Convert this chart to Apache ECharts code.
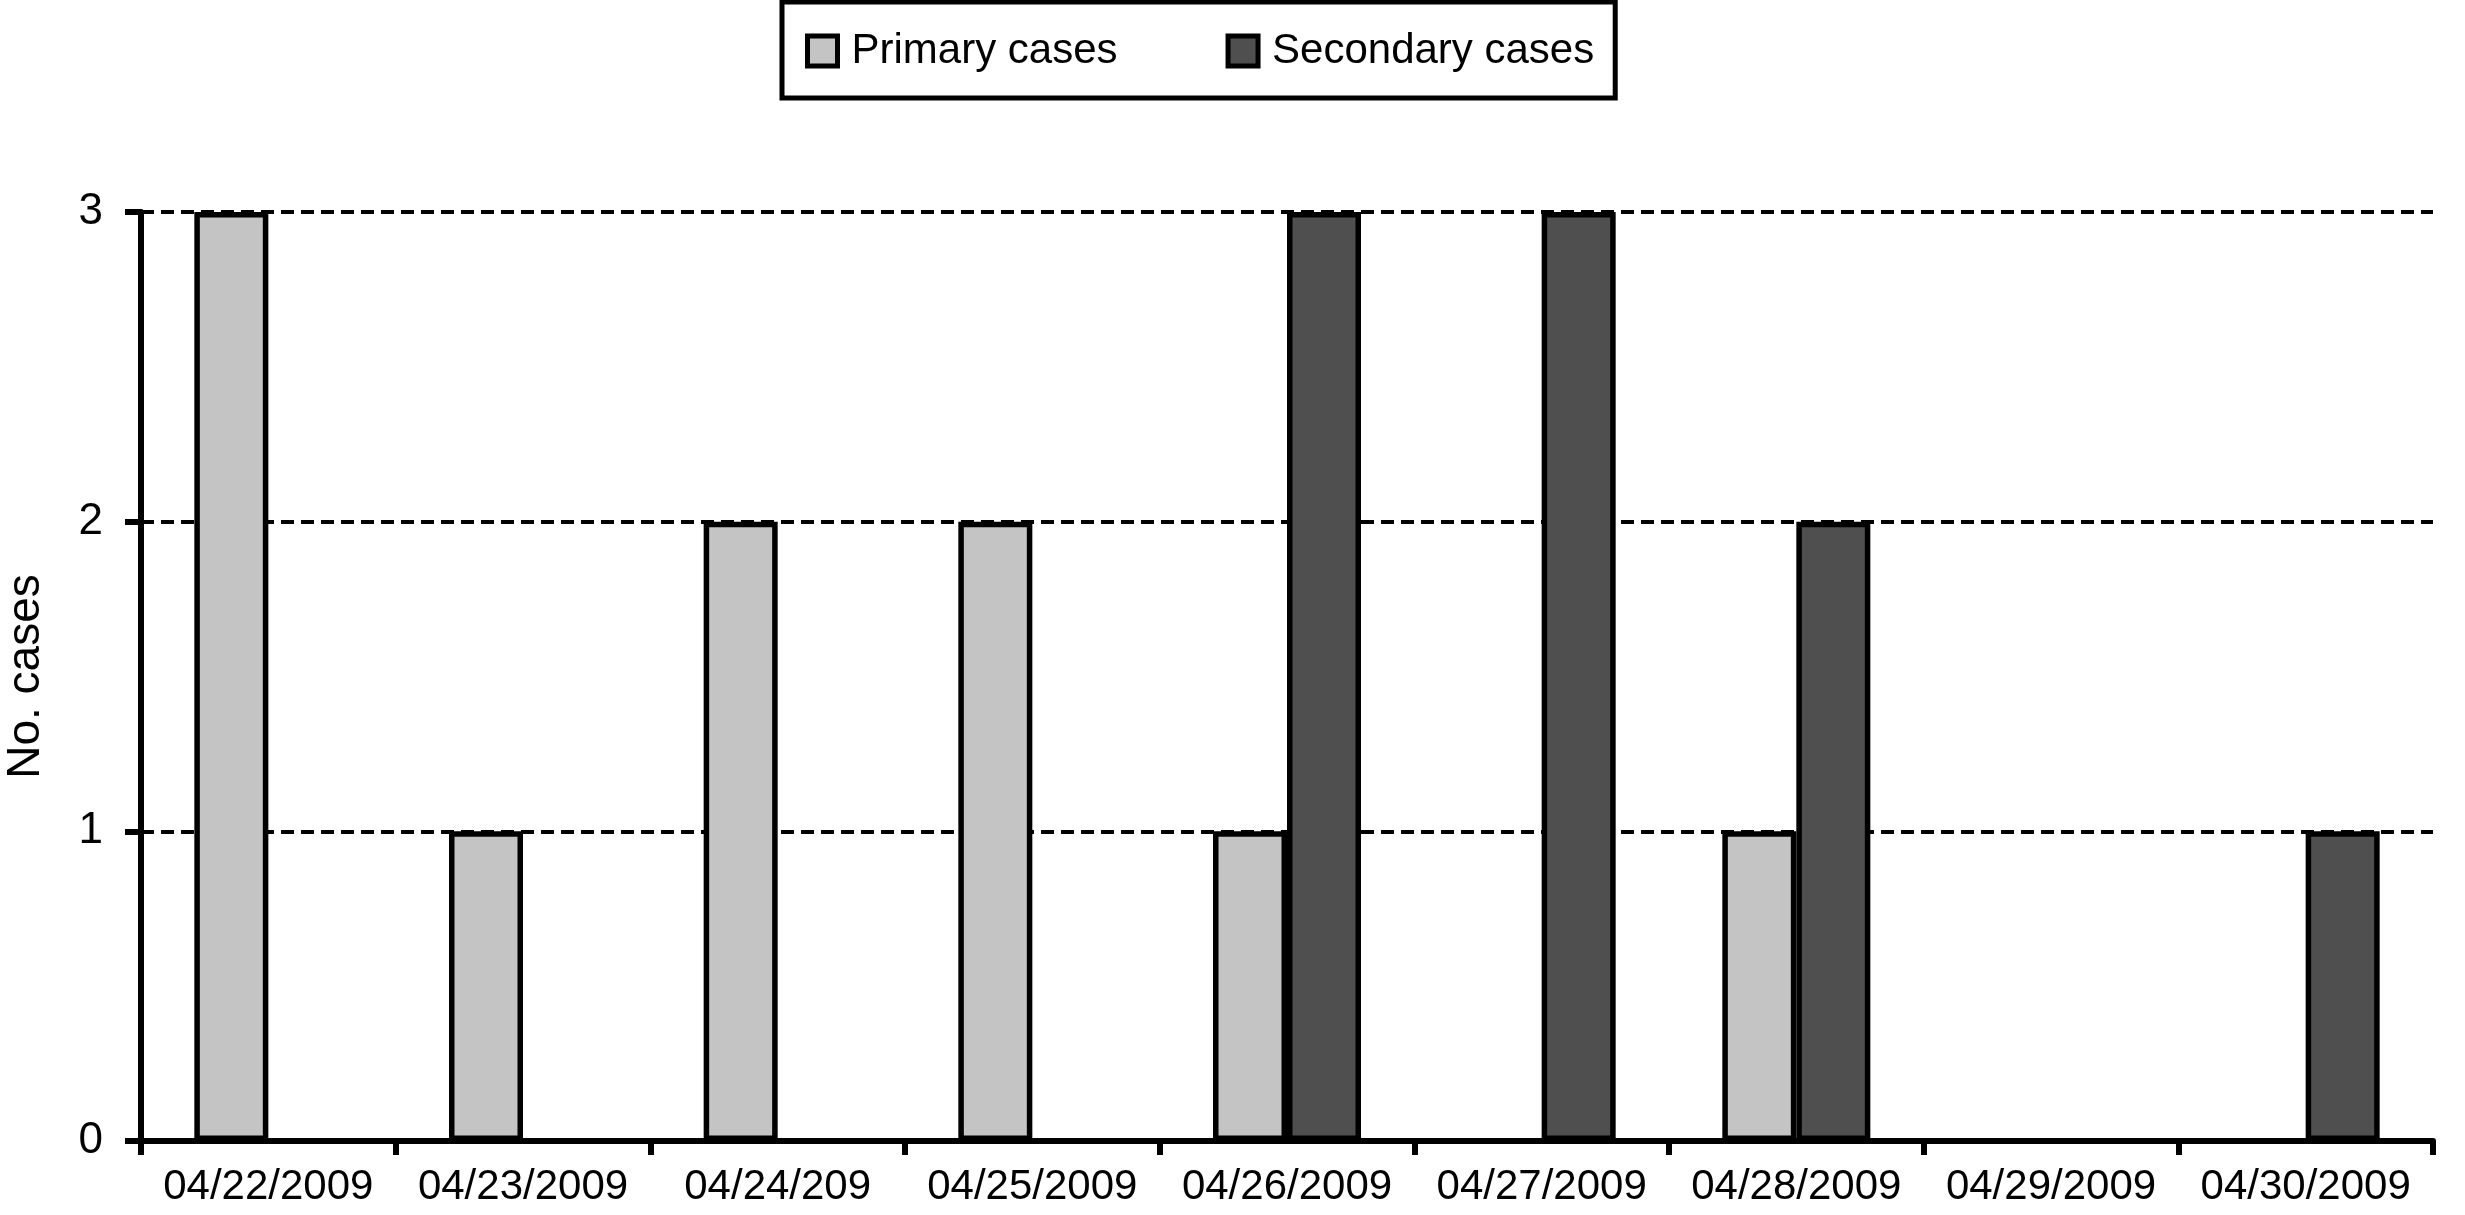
<!DOCTYPE html>
<html>
<head>
<meta charset="utf-8">
<script src="https://cdn.jsdelivr.net/npm/echarts@6/dist/echarts.min.js"></script>
<style>
html,body{margin:0;padding:0;background:#fff;}
#c{width:2465px;height:1215px;}
</style>
</head>
<body>
<div id="c"></div>
<script>
const categories = ['04/22/2009','04/23/2009','04/24/209','04/25/2009','04/26/2009','04/27/2009','04/28/2009','04/29/2009','04/30/2009'];
const primaryCases = [3,1,2,2,1,0,1,0,0];
const secondaryCases = [0,0,0,0,3,3,2,0,1];
const yTicks = [0,1,2,3];

const FONT = '"Liberation Sans", Arial, Helvetica, sans-serif';
const chart = echarts.init(document.getElementById('c'), null, {renderer:'canvas'});
chart.setOption({
  animation:false,
  backgroundColor:'#fff',
  legend:{
    left:782, top:2,
    padding:[28,21,26,23],
    itemGap:108,
    icon:'rect',
    itemWidth:30, itemHeight:30,
    itemStyle:{borderColor:'#000', borderWidth:5},
    borderColor:'#000', borderWidth:5, borderRadius:0,
    textStyle:{fontFamily:FONT, fontSize:42, color:'#000', padding:[0,0,0,9]},
    data:['Primary cases','Secondary cases']
  },
  grid:{left:141, right:32, top:212, bottom:74, containLabel:false, outerBoundsMode:'none'},
  xAxis:{
    type:'category',
    data:categories,
    boundaryGap:true,
    axisLine:{lineStyle:{color:'#000', width:6}},
    axisTick:{show:true, interval:0, length:14, lineStyle:{color:'#000', width:6}},
    axisLabel:{interval:0, margin:25, fontFamily:FONT, fontSize:42, color:'#000'},
    splitLine:{show:false}
  },
  yAxis:{
    type:'value',
    min:yTicks[0], max:yTicks[yTicks.length-1], interval:1,
    name:'No. cases',
    nameLocation:'middle',
    nameRotate:90,
    nameGap:92,
    nameTextStyle:{fontFamily:FONT, fontSize:46, color:'#000'},
    axisLine:{show:true, lineStyle:{color:'#000', width:6}},
    axisTick:{show:true, length:16, lineStyle:{color:'#000', width:6}},
    axisLabel:{margin:38, fontFamily:FONT, fontSize:44, color:'#000'},
    splitLine:{show:true, lineStyle:{color:'#000', width:4, type:[13,7]}}
  },
  series:[
    {name:'Primary cases', type:'bar', data:primaryCases, barWidth:74, barGap:'0%',
     itemStyle:{color:'#c4c4c4', borderColor:'#000', borderWidth:5.5}},
    {name:'Secondary cases', type:'bar', data:secondaryCases, barWidth:74, barGap:'0%',
     itemStyle:{color:'#4f4f4f', borderColor:'#000', borderWidth:5.5}}
  ]
});
</script>
</body>
</html>
